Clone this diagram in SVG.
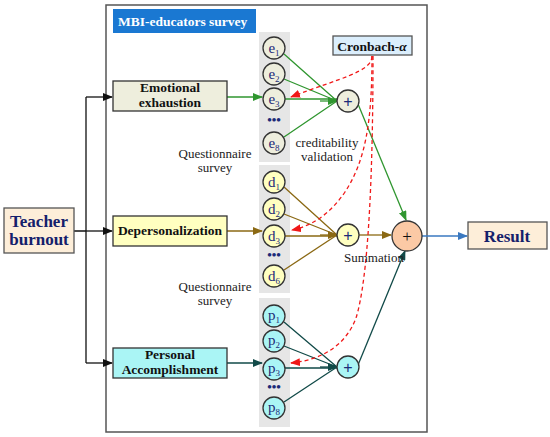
<svg xmlns="http://www.w3.org/2000/svg" width="550" height="437" viewBox="0 0 550 437">
<style>
text{font-family:"Liberation Serif","Times New Roman",serif}
.lbl{font-size:13.5px;font-weight:bold;fill:#111;text-anchor:middle}
.big{font-size:17px;font-weight:bold;fill:#14206b;text-anchor:middle}
.note{font-size:13px;fill:#222;text-anchor:middle}
.nd{stroke:#333;stroke-width:1.3}
.ci{font-size:15px;fill:#1c2a78;text-anchor:middle}
.sub{font-size:9px}
.col{fill:#e6e6e6}
.dots{font-size:13px;font-weight:bold;fill:#1c2a78;text-anchor:middle}
.g{stroke:#2f962f;stroke-width:1.3;fill:none}
.b{stroke:#8b6914;stroke-width:1.3;fill:none}
.t{stroke:#114a48;stroke-width:1.3;fill:none}
.k{stroke:#111;stroke-width:1.3;fill:none}
.r{stroke:#f01818;stroke-width:1.3;stroke-dasharray:4,3;fill:none}
.pl{font-size:16px;fill:#1c2a78;text-anchor:middle;font-family:"Liberation Sans",Arial,sans-serif}
</style>
<defs>
<marker id="ak" markerUnits="userSpaceOnUse" markerWidth="10" markerHeight="8" refX="9" refY="4" orient="auto"><path d="M0,0 L10,4 L0,8 z" fill="#111"/></marker>
<marker id="ag" markerUnits="userSpaceOnUse" markerWidth="10" markerHeight="8" refX="9" refY="4" orient="auto"><path d="M0,0 L10,4 L0,8 z" fill="#2f962f"/></marker>
<marker id="ab" markerUnits="userSpaceOnUse" markerWidth="10" markerHeight="8" refX="9" refY="4" orient="auto"><path d="M0,0 L10,4 L0,8 z" fill="#8b6914"/></marker>
<marker id="at" markerUnits="userSpaceOnUse" markerWidth="10" markerHeight="8" refX="9" refY="4" orient="auto"><path d="M0,0 L10,4 L0,8 z" fill="#114a48"/></marker>
<marker id="ar" markerUnits="userSpaceOnUse" markerWidth="10" markerHeight="8" refX="9" refY="4" orient="auto"><path d="M0,0 L10,4 L0,8 z" fill="#f01818"/></marker>
<marker id="abl" markerUnits="userSpaceOnUse" markerWidth="10" markerHeight="8" refX="9" refY="4" orient="auto"><path d="M0,0 L10,4 L0,8 z" fill="#3a78c0"/></marker>
</defs>
<rect width="550" height="437" fill="#fff"/>
<g id="frame">
<rect x="106" y="5" width="321" height="427" fill="#fff" stroke="#555" stroke-width="1.5"/>
<rect x="113" y="9" width="143" height="24" fill="#1a78d2"/>
<text x="118" y="26" font-size="13.5" font-weight="bold" fill="#fff">MBI-educators survey</text>
<rect class="col" x="259" y="32" width="31" height="130"/>
<rect class="col" x="259" y="165" width="31" height="128"/>
<rect class="col" x="259" y="298" width="31" height="129"/>
</g>
<g id="connectors">
<path class="k" d="M74,231 H86 M86,97 V363"/>
<path class="k" d="M86,97 H112" marker-end="url(#ak)"/>
<path class="k" d="M86,231 H112" marker-end="url(#ak)"/>
<path class="k" d="M86,363 H112" marker-end="url(#ak)"/>
<path class="g" d="M227,97 H262" marker-end="url(#ag)"/>
<path class="b" d="M227,231 H262" marker-end="url(#ab)"/>
<path class="t" d="M227,363 H262" marker-end="url(#at)"/>
<path class="g" d="M284,54 L337,101 M284,79 L337,101 M285,99 H337 M284,137 L337,101"/>
<path class="g" d="M320,101 H337" marker-end="url(#ag)"/>
<path class="b" d="M284,187 L337,235 M284,214 L337,235 M285,236 H337 M284,270 L337,235"/>
<path class="b" d="M320,235 H337" marker-end="url(#ab)"/>
<path class="t" d="M284,322 L337,367 M284,346 L337,367 M285,368 H337 M284,402 L337,367"/>
<path class="t" d="M320,367 H337" marker-end="url(#at)"/>
<path class="g" d="M358,104 L406,220" marker-end="url(#ag)"/>
<path class="b" d="M359,235 H391" marker-end="url(#ab)"/>
<path class="t" d="M358,365 L405,251" marker-end="url(#at)"/>
<path d="M422,236 H467" stroke="#3a78c0" stroke-width="1.5" fill="none" marker-end="url(#abl)"/>
<path class="r" d="M372,56 C372,72 340,78 291,97" marker-end="url(#ar)"/>
<path class="r" d="M372,56 C372,120 366,160 345,192 C330,214 312,226 292,230" marker-end="url(#ar)"/>
<path class="r" d="M373,56 C373,180 368,280 356,318 C346,345 322,360 291,363" marker-end="url(#ar)"/>
</g>
<g id="teacher-burnout">
<rect x="4" y="208" width="70" height="45" fill="#fdeed9" stroke="#555" stroke-width="1.3"/>
<text class="big" x="39" y="227">Teacher</text>
<text class="big" x="39" y="245">burnout</text>
</g>
<g id="emotional-exhaustion">
<rect x="113" y="81" width="114" height="30" fill="#eeeedd" stroke="#333" stroke-width="1.3"/>
<text class="lbl" x="170" y="92">Emotional</text>
<text class="lbl" x="170" y="107">exhaustion</text>
</g>
<g id="depersonalization">
<rect x="113" y="216" width="114" height="30" fill="#ffffc0" stroke="#333" stroke-width="1.3"/>
<text class="lbl" x="170" y="235">Depersonalization</text>
</g>
<g id="personal-accomplishment">
<rect x="113" y="348" width="114" height="30" fill="#aaf5f5" stroke="#333" stroke-width="1.3"/>
<text class="lbl" x="170" y="359">Personal</text>
<text class="lbl" x="170" y="374">Accomplishment</text>
</g>
<g id="e-items">
<circle class="nd" cx="274" cy="48" r="11" fill="#eeeedd"/><text class="ci" x="274" y="53">e<tspan class="sub" dy="3">1</tspan></text>
<circle class="nd" cx="274" cy="74" r="11" fill="#eeeedd"/><text class="ci" x="274" y="79">e<tspan class="sub" dy="3">2</tspan></text>
<circle class="nd" cx="274" cy="99" r="11" fill="#eeeedd"/><text class="ci" x="274" y="104">e<tspan class="sub" dy="3">3</tspan></text>
<text class="dots" x="274" y="124">•••</text>
<circle class="nd" cx="274" cy="143" r="11" fill="#eeeedd"/><text class="ci" x="274" y="148">e<tspan class="sub" dy="3">8</tspan></text>
</g>
<g id="d-items">
<circle class="nd" cx="274" cy="182" r="11" fill="#ffffc0"/><text class="ci" x="274" y="187">d<tspan class="sub" dy="3">1</tspan></text>
<circle class="nd" cx="274" cy="209" r="11" fill="#ffffc0"/><text class="ci" x="274" y="214">d<tspan class="sub" dy="3">2</tspan></text>
<circle class="nd" cx="274" cy="236" r="11" fill="#ffffc0"/><text class="ci" x="274" y="241">d<tspan class="sub" dy="3">3</tspan></text>
<text class="dots" x="274" y="259">•••</text>
<circle class="nd" cx="274" cy="276" r="11" fill="#ffffc0"/><text class="ci" x="274" y="281">d<tspan class="sub" dy="3">6</tspan></text>
</g>
<g id="p-items">
<circle class="nd" cx="274" cy="316" r="11" fill="#aaf5f5"/><text class="ci" x="274" y="320">p<tspan class="sub" dy="3">1</tspan></text>
<circle class="nd" cx="274" cy="341" r="11" fill="#aaf5f5"/><text class="ci" x="274" y="345">p<tspan class="sub" dy="3">2</tspan></text>
<circle class="nd" cx="274" cy="369" r="11" fill="#aaf5f5"/><text class="ci" x="274" y="373">p<tspan class="sub" dy="3">3</tspan></text>
<text class="dots" x="274" y="391">•••</text>
<circle class="nd" cx="274" cy="408" r="11" fill="#aaf5f5"/><text class="ci" x="274" y="412">p<tspan class="sub" dy="3">8</tspan></text>
</g>
<g id="e-sum">
<circle class="nd" cx="348" cy="101" r="11" fill="#eeeedd"/><text class="pl" x="348" y="107">+</text>
</g>
<g id="d-sum">
<circle class="nd" cx="348" cy="235" r="11" fill="#ffffc0"/><text class="pl" x="348" y="241">+</text>
</g>
<g id="p-sum">
<circle class="nd" cx="348" cy="367" r="11" fill="#aaf5f5"/><text class="pl" x="348" y="373">+</text>
</g>
<g id="total-sum">
<circle class="nd" cx="407" cy="236" r="15" fill="#fbc9a5"/><text x="407" y="242" font-size="17" text-anchor="middle" fill="#111" font-family="Liberation Sans,Arial,sans-serif">+</text>
</g>
<g id="cronbach">
<rect x="333" y="36" width="79" height="19" fill="#dbeefc" stroke="#555" stroke-width="1.3"/>
<text class="lbl" x="372" y="51">Cronbach-<tspan font-style="italic">α</tspan></text>
</g>
<g id="result">
<rect x="468" y="222" width="79" height="27" fill="#fdeed9" stroke="#555" stroke-width="1.3"/>
<text class="big" x="507" y="242" font-size="18">Result</text>
</g>
<g id="labels">
<text class="note" x="327" y="147">creditability</text>
<text class="note" x="327" y="161">validation</text>
<text class="note" x="215" y="158">Questionnaire</text>
<text class="note" x="215" y="172">survey</text>
<text class="note" x="215" y="291">Questionnaire</text>
<text class="note" x="215" y="305">survey</text>
<text class="note" x="374" y="262">Summation</text>
</g>
</svg>
